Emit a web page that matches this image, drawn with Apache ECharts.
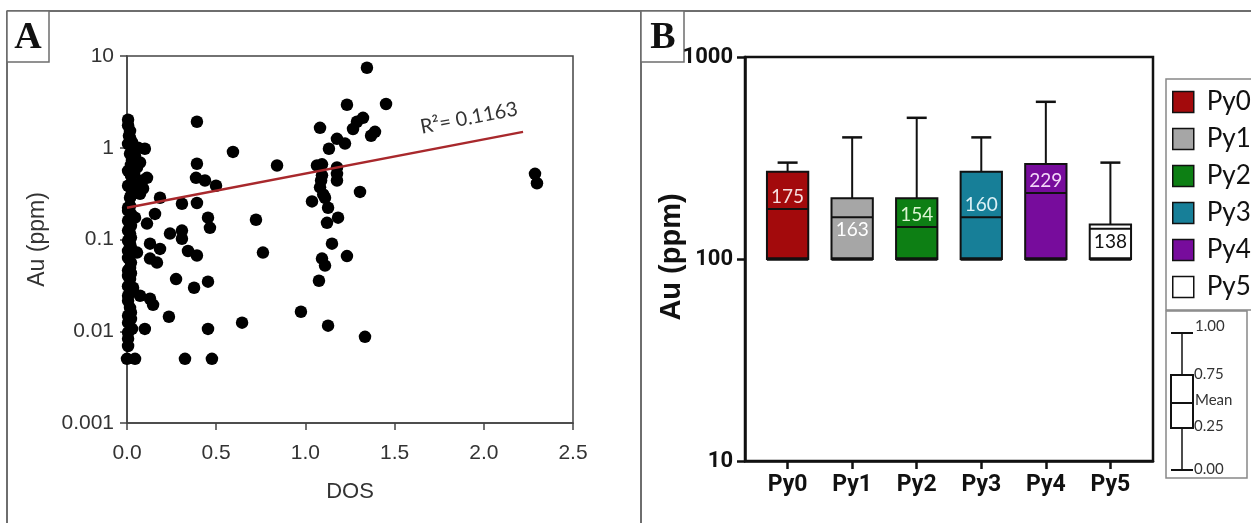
<!DOCTYPE html>
<html>
<head>
<meta charset="utf-8">
<script src="https://cdn.jsdelivr.net/npm/echarts@6/dist/echarts.min.js"></script>
<style>
  html, body { margin: 0; padding: 0; background: #fff; }
  #chart { width: 1251px; height: 523px; }
</style>
</head>
<body>
<div id="chart"></div>
<script>
// ---- Panel A: Au (ppm) vs DOS ----
const dosX = [
  0.006, 0.006, 0.017, 0.011, 0.017, 0.028, 0.062, 0.10, 0.034, 0.045,
  0.017, 0.073, 0.056, 0.028, 0.112, 0.084, 0.034, 0.028, 0.09, 0.017,
  0.017, 0.006, 0.073, 0.185, 0.308, 0.392, 0.045, 0.157, 0.112, 0.454,
  0.465, 0.017, 0.241, 0.308, 0.308, 0.017, 0.129, 0.185, 0.056, 0.129,
  0.342, 0.392, 0.006, 0.017, 0.168, 0.017, 0.275, 0.376, 0.454, 0.034,
  0.006, 0.006, 0.073, 0.129, 0.146, 0.017, 0.235, 0.006, 0.028, 0.10,
  0.454, 0.645, 0.006, 0.006, 0.0, 0.045, 0.325, 0.476,
  0.006, 0.022, 0.006, 0.022, 0.006, 0.022, 0.006, 0.022, 0.006, 0.022,
  0.006, 0.022, 0.006, 0.022, 0.006, 0.022, 0.006, 0.022, 0.006, 0.022,
  0.006, 0.022, 0.006, 0.006, 0.022, 0.04,
  0.392, 0.594, 0.841, 0.392, 0.387, 0.437, 0.499, 0.723, 0.762, 0.975,
  1.345, 1.233, 1.452, 1.082, 1.177, 1.222, 1.132, 1.267, 1.289, 1.323,
  1.368, 1.39, 1.065, 1.093, 1.177, 1.093, 1.082, 1.177, 1.177, 1.037,
  1.11, 1.127, 1.306, 1.121, 1.183, 1.149, 1.093, 1.11, 1.233, 1.076,
  1.127, 1.334, 1.088, 1.1,
  2.287, 2.298
];
const auY = [
  2.02, 1.75, 1.53, 1.35, 1.29, 1.15, 1.0, 0.975, 0.93, 0.82,
  0.86, 0.69, 0.61, 0.72, 0.47, 0.44, 0.41, 0.34, 0.36, 0.285,
  0.233, 0.222, 0.315, 0.285, 0.245, 0.25, 0.173, 0.19, 0.149, 0.173,
  0.134, 0.116, 0.116, 0.125, 0.102, 0.09, 0.09, 0.079, 0.072, 0.062,
  0.075, 0.067, 0.063, 0.049, 0.056, 0.037, 0.037, 0.0298, 0.0347, 0.0298,
  0.031, 0.0244, 0.0244, 0.0226, 0.0194, 0.018, 0.0144, 0.0124, 0.0106, 0.0106,
  0.0106, 0.0124, 0.0083, 0.0069, 0.005, 0.005, 0.005, 0.005,
  0.56, 0.50, 0.385, 0.30, 0.206, 0.19, 0.16, 0.141, 0.125, 0.105,
  0.097, 0.082, 0.075, 0.056, 0.046, 0.043, 0.040, 0.0276, 0.0215, 0.016,
  0.0148, 0.0136, 0.0097, 1.1, 0.65, 0.53,
  1.92, 0.90, 0.64, 0.67, 0.47, 0.44, 0.385, 0.164, 0.072, 0.0163,
  7.45, 2.94, 3.0, 1.65, 1.25, 1.11, 0.975, 1.6, 1.92, 2.12,
  1.35, 1.49, 0.64, 0.66, 0.61, 0.50, 0.37, 0.52, 0.44, 0.26,
  0.285, 0.222, 0.33, 0.152, 0.173, 0.09, 0.062, 0.052, 0.066, 0.0355,
  0.0115, 0.0087, 0.44, 0.31,
  0.52, 0.41
];
const trendX = [0, 2.22];
const trendY = [0.222, 1.49];
const xTicksA = ['0.0', '0.5', '1.0', '1.5', '2.0', '2.5'];
const yTicksA = ['0.001', '0.01', '0.1', '1', '10'];

// ---- Panel B: Au (ppm) by pyrite type ----
const categories = ['Py0', 'Py1', 'Py2', 'Py3', 'Py4', 'Py5'];
const q1 = [100, 100, 100, 100, 100, 100];
const q3 = [270, 200, 200, 270, 295, 148];
const medians = [177, 161, 144, 161, 212, 141];
const maxes = [300, 400, 500, 400, 600, 300];
const meanLabels = ['175', '163', '154', '160', '229', '138'];
const yTicksB = ['10', '100', '1000'];

const boxColors = ['#a30a0c', '#a6a6a6', '#0d7f14', '#177f98', '#770c9c', '#ffffff'];
const labelColors = ['#f6dede', '#ffffff', '#dcf5d2', '#dcf1f6', '#f2d6f8', '#111111'];
const labelAbove = [true, false, true, true, true, false];

const SANS = "'Liberation Sans', Arial, sans-serif";
const HUMAN = "Lato, 'Open Sans', sans-serif";
const BOLD = "Roboto, 'Liberation Sans', sans-serif";

function renderBox(i, params, api) {
  const x = api.value(0);
  const bot = api.coord([x, api.value(1)]);
  const top = api.coord([x, api.value(2)]);
  const med = api.coord([x, api.value(3)]);
  const hi = api.coord([x, api.value(4)]);
  const left = api.coord([x - 0.32, api.value(1)])[0];
  const right = api.coord([x + 0.32, api.value(1)])[0];
  const cx = bot[0];
  const black = { stroke: '#111', lineWidth: 2 };
  return {
    type: 'group',
    children: [
      { type: 'line', shape: { x1: cx, y1: top[1], x2: cx, y2: hi[1] }, style: black },
      { type: 'line', shape: { x1: cx - 10, y1: hi[1], x2: cx + 10, y2: hi[1] }, style: { stroke: '#111', lineWidth: 2.5 } },
      { type: 'rect', shape: { x: left, y: top[1], width: right - left, height: bot[1] - top[1] },
        style: { fill: boxColors[i], stroke: '#111', lineWidth: 2 } },
      { type: 'line', shape: { x1: left, y1: med[1], x2: right, y2: med[1] }, style: black },
      { type: 'line', shape: { x1: left, y1: bot[1], x2: right, y2: bot[1] }, style: { stroke: '#111', lineWidth: 3.5 } },
      { type: 'text', style: {
          x: cx, y: med[1] + (labelAbove[i] ? -12 : 13),
          text: meanLabels[i], fill: labelColors[i],
          font: '19px ' + HUMAN, align: 'center', verticalAlign: 'middle'
        } }
    ]
  };
}

const chart = echarts.init(document.getElementById('chart'));

const boxSeries = categories.map((name, i) => ({
  name: name,
  type: 'custom',
  xAxisIndex: 1,
  yAxisIndex: 1,
  itemStyle: { color: boxColors[i] },
  renderItem: (params, api) => renderBox(i, params, api),
  data: [[i, q1[i], q3[i], medians[i], maxes[i]]]
}));

chart.setOption({
  animation: false,
  grid: [
    { left: 127, top: 56, width: 446, height: 367, show: true, borderColor: '#444', borderWidth: 1.5 },
    { left: 745, top: 57, width: 408, height: 404, show: true, borderColor: '#111', borderWidth: 2.5 }
  ],
  xAxis: [
    {
      type: 'value', gridIndex: 0, min: 0, max: 2.5, interval: 0.5,
      name: 'DOS', nameLocation: 'middle', nameGap: 58,
      nameTextStyle: { fontFamily: SANS, fontSize: 22, color: '#333' },
      axisLine: { lineStyle: { color: '#444', width: 1.5 } },
      axisTick: { length: 7, lineStyle: { color: '#444', width: 1.5 } },
      axisLabel: { margin: 20, fontFamily: SANS, fontSize: 21, color: '#333',
        formatter: v => xTicksA[Math.round(v / 0.5)] },
      splitLine: { show: false }
    },
    {
      type: 'value', gridIndex: 1, min: -0.66, max: 5.66,
      axisLine: { onZero: false, lineStyle: { color: '#111', width: 2.5 } },
      axisTick: { length: 8, customValues: [0, 1, 2, 3, 4, 5], lineStyle: { color: '#111', width: 2.5 } },
      axisLabel: { margin: 13, customValues: [0, 1, 2, 3, 4, 5], fontFamily: BOLD, fontWeight: 'bold',
        fontSize: 23, color: '#111', formatter: v => categories[Math.round(v)] },
      splitLine: { show: false }
    }
  ],
  yAxis: [
    {
      type: 'log', gridIndex: 0, min: 0.001, max: 10, logBase: 10,
      name: 'Au (ppm)', nameLocation: 'middle', nameGap: 78,
      nameTextStyle: { fontFamily: SANS, fontSize: 23, color: '#333' },
      axisLine: { onZero: false, lineStyle: { color: '#444', width: 1.5 } },
      axisTick: { length: 7, lineStyle: { color: '#444', width: 1.5 } },
      minorTick: { show: false },
      axisLabel: { margin: 13, fontFamily: SANS, fontSize: 21, color: '#333',
        formatter: v => yTicksA[Math.round(Math.log10(v)) + 3] },
      splitLine: { show: false }
    },
    {
      type: 'log', gridIndex: 1, min: 10, max: 1000, logBase: 10,
      axisLine: { onZero: false, lineStyle: { color: '#111', width: 2.5 } },
      axisTick: { length: 8, lineStyle: { color: '#111', width: 2.5 } },
      axisLabel: { margin: 12, fontFamily: BOLD, fontWeight: 'bold', fontSize: 22, color: '#111',
        formatter: v => yTicksB[Math.round(Math.log10(v)) - 1] },
      splitLine: { show: false }
    }
  ],
  legend: {
    orient: 'vertical', left: 1166, top: 79,
    data: categories, selectedMode: false,
    icon: 'rect', itemWidth: 21, itemHeight: 21, itemGap: 11,
    itemStyle: { borderColor: '#111', borderWidth: 1.5 },
    textStyle: { fontFamily: HUMAN, fontSize: 26, color: '#111', padding: [0, 0, 0, 8] },
    borderColor: '#888', borderWidth: 1.5, padding: [10, 40, 10, 6]
  },
  series: [
    {
      type: 'scatter', xAxisIndex: 0, yAxisIndex: 0,
      symbolSize: 12.5, itemStyle: { color: '#000', opacity: 1 },
      data: dosX.map((d, i) => [d, auY[i]])
    },
    {
      type: 'line', xAxisIndex: 0, yAxisIndex: 0, z: 5,
      symbol: 'none', lineStyle: { color: '#a8282c', width: 2.5 },
      data: trendX.map((d, i) => [d, trendY[i]])
    }
  ].concat(boxSeries),
  graphic: [
    // panel frames
    { type: 'line', shape: { x1: 7, y1: 11, x2: 1251, y2: 11 }, style: { stroke: '#6e6e6e', lineWidth: 2 } },
    { type: 'line', shape: { x1: 7, y1: 11, x2: 7, y2: 523 }, style: { stroke: '#6e6e6e', lineWidth: 2 } },
    { type: 'line', shape: { x1: 641, y1: 11, x2: 641, y2: 523 }, style: { stroke: '#6e6e6e', lineWidth: 2 } },
    { type: 'rect', shape: { x: 7, y: 11, width: 42, height: 51 }, style: { fill: '#fff', stroke: '#6e6e6e', lineWidth: 1.5 } },
    { type: 'text', x: 28, y: 38, style: { text: 'A', font: "bold 38px 'Liberation Serif', serif", fill: '#111', align: 'center', verticalAlign: 'middle' } },
    { type: 'rect', shape: { x: 641, y: 11, width: 43, height: 51 }, style: { fill: '#fff', stroke: '#6e6e6e', lineWidth: 1.5 } },
    { type: 'text', x: 663, y: 38, style: { text: 'B', font: "bold 38px 'Liberation Serif', serif", fill: '#111', align: 'center', verticalAlign: 'middle' } },
    // panel B y axis name
    { type: 'text', x: 672, y: 257, rotation: Math.PI / 2,
      style: { text: 'Au (ppm)', font: "bold 29px 'Liberation Sans', Arial, sans-serif", fill: '#111', align: 'center', verticalAlign: 'middle' } },
    // regression label
    { type: 'text', x: 469, y: 118, rotation: 0.19, z: 10,
      style: { text: 'R\u00b2= 0.1163', font: '20px ' + HUMAN, fill: '#333', align: 'center', verticalAlign: 'middle' } },
    // box key
    { type: 'rect', shape: { x: 1166, y: 311, width: 81, height: 167 }, style: { fill: '#fff', stroke: '#888', lineWidth: 1.5 } },
    { type: 'line', shape: { x1: 1182, y1: 333, x2: 1182, y2: 470 }, style: { stroke: '#111', lineWidth: 1.5 } },
    { type: 'line', shape: { x1: 1171, y1: 333, x2: 1193, y2: 333 }, style: { stroke: '#111', lineWidth: 2 } },
    { type: 'line', shape: { x1: 1171, y1: 470, x2: 1193, y2: 470 }, style: { stroke: '#111', lineWidth: 2 } },
    { type: 'rect', shape: { x: 1171, y: 375, width: 22, height: 53 }, style: { fill: '#fff', stroke: '#111', lineWidth: 2 } },
    { type: 'line', shape: { x1: 1171, y1: 403, x2: 1193, y2: 403 }, style: { stroke: '#111', lineWidth: 2 } },
    { type: 'text', x: 1195, y: 326, style: { text: '1.00', font: '15px ' + HUMAN, fill: '#333', verticalAlign: 'middle' } },
    { type: 'text', x: 1194, y: 374, style: { text: '0.75', font: '15px ' + HUMAN, fill: '#333', verticalAlign: 'middle' } },
    { type: 'text', x: 1195, y: 400, style: { text: 'Mean', font: '15px ' + HUMAN, fill: '#333', verticalAlign: 'middle' } },
    { type: 'text', x: 1194, y: 426, style: { text: '0.25', font: '15px ' + HUMAN, fill: '#333', verticalAlign: 'middle' } },
    { type: 'text', x: 1194, y: 469, style: { text: '0.00', font: '15px ' + HUMAN, fill: '#333', verticalAlign: 'middle' } }
  ]
});
</script>
</body>
</html>
